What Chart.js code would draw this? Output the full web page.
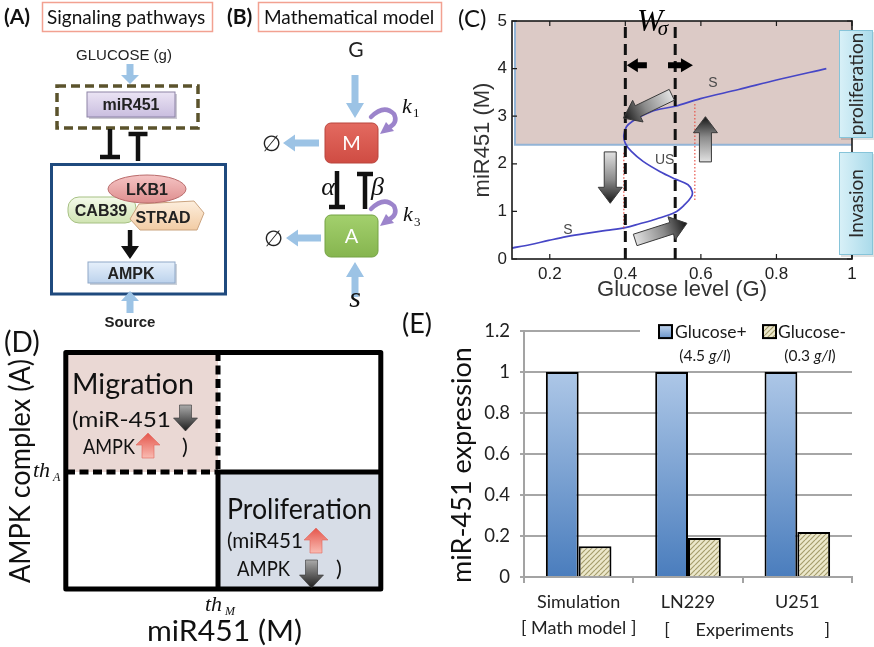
<!DOCTYPE html>
<html><head><meta charset="utf-8">
<script src="https://cdn.jsdelivr.net/npm/chart.js@4.4.1/dist/chart.umd.min.js"></script>
<style>
html,body{margin:0;padding:0;background:#fff}
#wrap{position:relative;width:874px;height:647px;overflow:hidden;background:#fff}
canvas{position:absolute}
#ov{position:absolute;left:0;top:0}
</style></head><body>
<div id="wrap">
<canvas id="cC" width="412" height="310" style="left:462px;top:0;width:412px;height:310px"></canvas>
<canvas id="cE" width="474" height="337" style="left:400px;top:310px;width:474px;height:337px"></canvas>
<svg id="ov" width="874" height="647" xmlns="http://www.w3.org/2000/svg"></svg>
</div>
<script>
// ---------- Panel C data (bifurcation curve) ----------
const glucoseLevel = [0.10,0.147,0.197,0.244,0.297,0.35,0.40,0.438,0.482,0.532,0.557,0.575,0.577,0.566,0.532,0.491,0.447,0.416,0.40,0.396,0.403,0.42,0.447,0.482,0.532,0.599,0.70,0.80,0.932];
const mir451Level  = [0.23,0.30,0.39,0.47,0.54,0.60,0.66,0.74,0.84,0.98,1.14,1.31,1.42,1.56,1.68,1.84,2.05,2.26,2.43,2.60,2.78,2.90,3.02,3.13,3.21,3.37,3.56,3.76,4.00];
const switchThresholds = [0.40, 0.532];
const foldG = [0.396, 0.584];
const foldFrom = [2.23, 1.24];
const foldTo = [0.61, 3.28];
const proliferationLevel = 2.4;
const xTicksC = [0.2, 0.4, 0.6, 0.8, 1];
const yTicksC = [0, 1, 2, 3, 4, 5];
const flowArrowFrom = [[0.523,3.45],[0.612,2.04],[0.36,2.25],[0.426,0.40]];
const flowArrowTo   = [[0.395,2.96],[0.612,2.99],[0.36,1.17],[0.563,0.75]];

// ---------- Panel E data (bar chart) ----------
const categoriesE = ['Simulation', 'LN229', 'U251'];
const glucosePlus = [1, 1, 1];
const glucoseMinus = [0.15, 0.19, 0.22];
const yTicksE = [0, 0.2, 0.4, 0.6, 0.8, 1, 1.2];

const LATO = 'Lato, "Open Sans", sans-serif';
const ARIAL = '"Liberation Sans", Arial, sans-serif';
const SERIF = '"Liberation Serif", "DejaVu Serif", serif';

function arrowPoints(x1,y1,x2,y2,sw,hw,hl){
  const dx=x2-x1, dy=y2-y1, L=Math.hypot(dx,dy), ux=dx/L, uy=dy/L, px=-uy, py=ux;
  const bx=x2-ux*hl, by=y2-uy*hl;
  return [[x1+px*sw/2,y1+py*sw/2],[bx+px*sw/2,by+py*sw/2],[bx+px*hw/2,by+py*hw/2],[x2,y2],
          [bx-px*hw/2,by-py*hw/2],[bx-px*sw/2,by-py*sw/2],[x1-px*sw/2,y1-py*sw/2]];
}
function svgArrow(x1,y1,x2,y2,sw,hw,hl,fill,extra){
  return `<polygon points="${arrowPoints(x1,y1,x2,y2,sw,hw,hl).map(p=>p[0].toFixed(1)+','+p[1].toFixed(1)).join(' ')}" fill="${fill}" ${extra||''}/>`;
}
function ctxArrow(ctx,x1,y1,x2,y2,sw,hw,hl){
  const p=arrowPoints(x1,y1,x2,y2,sw,hw,hl);
  ctx.beginPath(); p.forEach((q,i)=> i?ctx.lineTo(q[0],q[1]):ctx.moveTo(q[0],q[1])); ctx.closePath();
}

// ---------- Panel C chart ----------
const panelCPlugin = {
  id: 'panelC',
  beforeDatasetsDraw(chart){
    const {ctx, chartArea:a, scales:{x,y}} = chart;
    const yT=y.getPixelForValue(5), yB=y.getPixelForValue(proliferationLevel);
    const xl=x.getPixelForValue(0.1)+3, xr=x.getPixelForValue(1);
    ctx.save();
    ctx.fillStyle='#dccac6'; ctx.fillRect(xl,yT,xr-xl,yB-yT);
    ctx.strokeStyle='#93b4d6'; ctx.lineWidth=2;
    ctx.beginPath(); ctx.moveTo(xl,yT); ctx.lineTo(xl,yB); ctx.lineTo(xr,yB); ctx.stroke();
    ctx.restore();
  },
  afterDatasetsDraw(chart){
    const {ctx, chartArea:a, scales:{x,y}} = chart;
    ctx.save();
    ctx.strokeStyle='#1a1a1a'; ctx.lineWidth=1.6;
    ctx.strokeRect(a.left,a.top,a.width,a.height);
    ctx.lineWidth=1.2; ctx.beginPath();
    xTicksC.forEach(v=>{const p=x.getPixelForValue(v); ctx.moveTo(p,a.bottom); ctx.lineTo(p,a.bottom-5); ctx.moveTo(p,a.top); ctx.lineTo(p,a.top+5);});
    yTicksC.forEach(v=>{const p=y.getPixelForValue(v); ctx.moveTo(a.left,p); ctx.lineTo(a.left+5,p); ctx.moveTo(a.right,p); ctx.lineTo(a.right-5,p);});
    ctx.stroke();
    flowArrowFrom.forEach((f,i)=>{
      const t=flowArrowTo[i];
      const x1=x.getPixelForValue(f[0]), y1=y.getPixelForValue(f[1]);
      const x2=x.getPixelForValue(t[0]), y2=y.getPixelForValue(t[1]);
      const g=ctx.createLinearGradient(x1,y1,x2,y2);
      g.addColorStop(0,'#e2e2e2'); g.addColorStop(0.55,'#8a8a8a'); g.addColorStop(1,'#151515');
      ctxArrow(ctx,x1,y1,x2,y2,12,24,16);
      ctx.fillStyle=g; ctx.fill(); ctx.strokeStyle='#3a3a3a'; ctx.lineWidth=1; ctx.stroke();
    });
    const ya=y.getPixelForValue(4.07);
    ctx.fillStyle='#000';
    ctxArrow(ctx,x.getPixelForValue(0.457),ya,x.getPixelForValue(0.404),ya,6,14,11); ctx.fill();
    ctxArrow(ctx,x.getPixelForValue(0.513),ya,x.getPixelForValue(0.579),ya,6,14,12); ctx.fill();
    ctx.font='italic 31px '+SERIF; ctx.textAlign='left'; ctx.textBaseline='alphabetic';
    ctx.fillText('W', x.getPixelForValue(0.431), y.getPixelForValue(4.79));
    ctx.font='italic 21px '+SERIF;
    ctx.fillText('σ', x.getPixelForValue(0.486), y.getPixelForValue(4.70));
    ctx.font='14px '+ARIAL; ctx.fillStyle='#4a4a4a'; ctx.textAlign='center'; ctx.textBaseline='middle';
    ctx.fillText('S', x.getPixelForValue(0.632), y.getPixelForValue(3.69));
    ctx.fillText('US', x.getPixelForValue(0.504), y.getPixelForValue(2.07));
    ctx.fillText('S', x.getPixelForValue(0.248), y.getPixelForValue(0.61));
    const bx=a.right-13, bw=34;
    const boxes=[[30,138,'proliferation'],[152,255,'Invasion']];
    boxes.forEach(b=>{
      const g=ctx.createLinearGradient(bx,0,bx+bw,0);
      g.addColorStop(0,'#d9f1f8'); g.addColorStop(1,'#a9daea');
      ctx.fillStyle='rgba(0,0,0,0.12)'; ctx.fillRect(bx+2,b[0]+2,bw,b[1]-b[0]);
      ctx.fillStyle=g; ctx.fillRect(bx,b[0],bw,b[1]-b[0]);
      ctx.strokeStyle='#86c4d9'; ctx.lineWidth=1; ctx.strokeRect(bx+0.5,b[0]+0.5,bw-1,b[1]-b[0]-1);
      ctx.save(); ctx.translate(bx+bw/2+1,(b[0]+b[1])/2); ctx.rotate(-Math.PI/2);
      ctx.fillStyle='#2a2a2a'; ctx.font='19px '+LATO; ctx.textAlign='center'; ctx.textBaseline='middle';
      ctx.fillText(b[2],0,0); ctx.restore();
    });
    ctx.restore();
  }
};

const curvePts = glucoseLevel.map((g,i)=>({x:g, y:mir451Level[i]}));
const dsC = [];
switchThresholds.forEach(g=>dsC.push({data:[{x:g,y:0},{x:g,y:5}], showLine:true, borderColor:'#111', borderWidth:3, borderDash:[11,6], pointRadius:0}));
foldG.forEach((g,i)=>dsC.push({data:[{x:g,y:foldFrom[i]},{x:g,y:foldTo[i]}], showLine:true, borderColor:'#e8544a', borderWidth:1.2, borderDash:[1.5,2], pointRadius:0}));
dsC.push({data:curvePts, showLine:true, borderColor:'#4646c6', borderWidth:1.7, pointRadius:0, tension:0.35});

try {
new Chart(document.getElementById('cC'), {
  type:'scatter',
  data:{datasets:dsC},
  options:{
    responsive:false, animation:false, devicePixelRatio:1,
    layout:{padding:{left:0,right:22,top:21,bottom:0}},
    plugins:{legend:{display:false}, tooltip:{enabled:false}},
    scales:{
      x:{type:'linear', min:0.1, max:1,
        afterBuildTicks:s=>{s.ticks=xTicksC.map(v=>({value:v}));},
        afterFit:s=>{s.height=51;},
        grid:{display:false, drawTicks:false}, border:{display:false},
        ticks:{font:{family:ARIAL,size:17}, color:'#222', padding:5, callback:v=>String(v)},
        title:{display:true, text:'Glucose level (G)', font:{family:ARIAL,size:22}, color:'#333', padding:{top:0,bottom:7}}
      },
      y:{type:'linear', min:0, max:5,
        afterBuildTicks:s=>{s.ticks=yTicksC.map(v=>({value:v}));},
        afterFit:s=>{s.width=50;},
        grid:{display:false, drawTicks:false}, border:{display:false},
        ticks:{font:{family:ARIAL,size:17}, color:'#222', padding:5, callback:v=>String(v)},
        title:{display:true, text:'miR451 (M)', font:{family:ARIAL,size:22}, color:'#333', padding:{top:8,bottom:0}}
      }
    }
  },
  plugins:[panelCPlugin]
});
} catch(e) { console.error(e); }

// ---------- Panel E chart ----------
const cE = document.getElementById('cE');
function makeHatch(){
  const c=document.createElement('canvas'); c.width=5; c.height=5;
  const g=c.getContext('2d');
  g.fillStyle='#ece8cb'; g.fillRect(0,0,5,5);
  g.strokeStyle='#a59d6c'; g.lineWidth=1.2; g.beginPath();
  for(let k=-5;k<=10;k+=5){ g.moveTo(k,5); g.lineTo(k+5,0); }
  g.stroke();
  return cE.getContext('2d').createPattern(c,'repeat');
}
const hatch = makeHatch();
function blueGrad(chart){
  const ys=chart.scales && chart.scales.y;
  if(!chart.chartArea || !ys) return '#6d95c9';
  const t=ys.getPixelForValue(1), b=ys.getPixelForValue(0);
  if(!isFinite(t) || !isFinite(b)) return '#6d95c9';
  const g=chart.ctx.createLinearGradient(0,t,0,b);
  g.addColorStop(0,'#adc7e7'); g.addColorStop(1,'#4a7dbd'); return g;
}
const panelEPlugin = {
  id:'panelE',
  afterDraw(chart){
    const {ctx, chartArea:a, scales:{x,y}} = chart;
    ctx.save();
    ctx.save(); ctx.translate(62, 155); ctx.rotate(-Math.PI/2);
    ctx.font='27px '+LATO; ctx.fillStyle='#111'; ctx.textAlign='center'; ctx.textBaseline='middle';
    ctx.fillText('miR-451 expression',0,0); ctx.restore();
    const y2=a.bottom+53;
    ctx.font='18px '+LATO; ctx.fillStyle='#222'; ctx.textAlign='center'; ctx.textBaseline='middle';
    const c1=x.getPixelForValue(1), c2=x.getPixelForValue(2);
    ctx.fillText('[', c1-21, y2);
    ctx.fillText('Experiments', (c1+c2)/2+2, y2);
    ctx.fillText(']', c2+30, y2);
    const yl=y.getPixelForValue(1.2);
    ctx.fillStyle='#fff'; ctx.fillRect(240,yl-9,a.right-240+2,18);
    const sq=(sx,fill)=>{ctx.fillStyle=fill; ctx.fillRect(sx,yl-6,13,13); ctx.strokeStyle='#000'; ctx.lineWidth=2; ctx.strokeRect(sx,yl-6,13,13);};
    const g=ctx.createLinearGradient(0,yl-6,0,yl+7); g.addColorStop(0,'#c3d6ee'); g.addColorStop(1,'#6a94c9');
    sq(259,g); sq(363,hatch);
    ctx.fillStyle='#1a1a1a'; ctx.textAlign='left'; ctx.font='17.5px '+LATO;
    ctx.fillText('Glucose+',275,yl+1); ctx.fillText('Glucose-',378,yl+1);
    const sub=(cx,num)=>{
      ctx.font='15.5px '+LATO; const w1=ctx.measureText('('+num+' ').width;
      ctx.font='italic 15.5px '+LATO; const w2=ctx.measureText('g/l').width;
      ctx.font='15.5px '+LATO; const w3=ctx.measureText(')').width;
      let sx=cx-(w1+w2+w3)/2; const yy=yl+25;
      ctx.fillText('('+num+' ',sx,yy); sx+=w1;
      ctx.font='italic 15.5px '+LATO; ctx.fillText('g/l',sx,yy); sx+=w2;
      ctx.font='15.5px '+LATO; ctx.fillText(')',sx,yy);
    };
    sub(305,'4.5'); sub(410,'0.3');
    ctx.restore();
  }
};

try {
new Chart(cE, {
  type:'bar',
  data:{
    labels:[[categoriesE[0],'[ Math model ]'],[categoriesE[1],''],[categoriesE[2],'']],
    datasets:[
      {label:'Glucose+', data:glucosePlus, backgroundColor:c=>blueGrad(c.chart), borderColor:'#000', borderWidth:2, categoryPercentage:0.6, barPercentage:1},
      {label:'Glucose-', data:glucoseMinus, backgroundColor:hatch, borderColor:'#000', borderWidth:2, categoryPercentage:0.6, barPercentage:1}
    ]
  },
  options:{
    responsive:false, animation:false, devicePixelRatio:1,
    layout:{padding:{left:40,right:22,top:16,bottom:0}},
    plugins:{legend:{display:false}, tooltip:{enabled:false}},
    scales:{
      x:{afterFit:s=>{s.height=70;},
        grid:{drawOnChartArea:false, color:'#a3a3a3', lineWidth:2, tickLength:6},
        border:{color:'#a3a3a3', width:2},
        ticks:{font:{family:LATO,size:18,lineHeight:1.4}, color:'#222', padding:7, maxRotation:0, autoSkip:false}
      },
      y:{min:0, max:1.2,
        afterBuildTicks:s=>{s.ticks=yTicksE.map(v=>({value:v}));},
        afterFit:s=>{s.width=84;},
        grid:{color:'#a6a6a6', lineWidth:2, tickLength:4},
        border:{color:'#a3a3a3', width:2},
        ticks:{font:{family:LATO,size:18.5}, color:'#222', padding:10, callback:v=>String(Number(Number(v).toFixed(1)))},
        title:{display:false, text:'miR-451 expression'}
      }
    }
  },
  plugins:[panelEPlugin]
});
} catch(e) { console.error(e); }

// ---------- Diagrams (A, B, D) and panel letters ----------
const LB='#9cc3e5';
const TL=(n)=>`textLength="${n}" lengthAdjust="spacingAndGlyphs"`;
let s = `<defs>
<linearGradient id="gMir" x1="0" y1="0" x2="0" y2="1"><stop offset="0" stop-color="#ebe4f4"/><stop offset="1" stop-color="#c9bddf"/></linearGradient>
<linearGradient id="gAmpk" x1="0" y1="0" x2="0" y2="1"><stop offset="0" stop-color="#e6f0fb"/><stop offset="1" stop-color="#bcd2ec"/></linearGradient>
<linearGradient id="gLkb" x1="0" y1="0" x2="0" y2="1"><stop offset="0" stop-color="#f5c4c4"/><stop offset="1" stop-color="#de8e8e"/></linearGradient>
<linearGradient id="gCab" x1="0" y1="0" x2="0" y2="1"><stop offset="0" stop-color="#f4faea"/><stop offset="1" stop-color="#d0e4b2"/></linearGradient>
<linearGradient id="gStrad" x1="0" y1="0" x2="0" y2="1"><stop offset="0" stop-color="#fdeedd"/><stop offset="1" stop-color="#f2cca4"/></linearGradient>
<linearGradient id="gM" x1="0" y1="0" x2="0" y2="1"><stop offset="0" stop-color="#e36a60"/><stop offset="1" stop-color="#cf4c43"/></linearGradient>
<linearGradient id="gA" x1="0" y1="0" x2="0" y2="1"><stop offset="0" stop-color="#a3d06d"/><stop offset="1" stop-color="#86b54f"/></linearGradient>
<linearGradient id="gDn" x1="0" y1="0" x2="0" y2="1"><stop offset="0" stop-color="#ababab"/><stop offset="1" stop-color="#1d1d1d"/></linearGradient>
<linearGradient id="gUp" x1="0" y1="0" x2="0" y2="1"><stop offset="0" stop-color="#e5554b"/><stop offset="1" stop-color="#f9bbb2"/></linearGradient>
</defs>`;
s += `<text x="4" y="24" font-family='${LATO}' font-weight="700" font-size="21" fill="#111">(A)</text>`;
s += `<rect x="42.5" y="2.5" width="170" height="29" fill="#fff" stroke="#f2a191" stroke-width="1.5"/>`;
s += `<text x="47" y="24" font-family='${LATO}' font-size="19" fill="#111">Signaling pathways</text>`;
s += `<text x="227" y="24" font-family='${LATO}' font-weight="700" font-size="21" fill="#111">(B)</text>`;
s += `<rect x="258.5" y="2.5" width="183" height="29" fill="#fff" stroke="#f2a191" stroke-width="1.5"/>`;
s += `<text x="264" y="24" font-family='${LATO}' font-size="19" fill="#111">Mathematical model</text>`;
s += `<text x="458" y="27" font-family='${LATO}' font-size="24" fill="#111">(C)</text>`;
s += `<text x="4" y="352" font-family='${LATO}' font-size="28" fill="#111">(D)</text>`;
s += `<text x="402" y="333" font-family='${LATO}' font-size="27" fill="#111">(E)</text>`;

// ---- Panel A ----
s += `<text x="124" y="60" text-anchor="middle" font-family='${ARIAL}' font-size="15" fill="#222">GLUCOSE (g)</text>`;
s += svgArrow(130,64,130,84,7,18,9,LB);
s += `<rect x="57" y="86" width="141" height="42" fill="none" stroke="#5b532c" stroke-width="3.5" stroke-dasharray="9 5"/>`;
s += `<rect x="89" y="94" width="88" height="25" fill="#9a94a8" opacity="0.5"/>`;
s += `<rect x="87" y="92" width="88" height="25" fill="url(#gMir)" stroke="#8d83a6" stroke-width="1"/>`;
s += `<text x="131" y="110" text-anchor="middle" font-family='${ARIAL}' font-weight="700" font-size="16" fill="#222">miR451</text>`;
s += `<g stroke="#111" stroke-width="4.5" stroke-linecap="butt"><line x1="110" y1="129" x2="110" y2="157"/><line x1="100" y1="157" x2="120" y2="157"/><line x1="138" y1="134" x2="138" y2="161"/><line x1="128.5" y1="134" x2="147.5" y2="134"/></g>`;
s += `<rect x="51.5" y="164.5" width="174" height="129.5" fill="none" stroke="#1f4a7e" stroke-width="3"/>`;
s += `<rect x="68" y="197" width="68" height="26" rx="11" fill="url(#gCab)" stroke="#a6c083" stroke-width="1"/>`;
s += `<polygon points="130,219 139,204 194,201 204,213 197,230 140,230" fill="url(#gStrad)" stroke="#caa37f" stroke-width="1"/>`;
s += `<ellipse cx="147" cy="189" rx="39" ry="14" fill="url(#gLkb)" stroke="#b96c6c" stroke-width="1"/>`;
s += `<text x="147" y="195" text-anchor="middle" font-family='${ARIAL}' font-weight="700" font-size="16" fill="#222">LKB1</text>`;
s += `<text x="101" y="216" text-anchor="middle" font-family='${ARIAL}' font-weight="700" font-size="16" fill="#222">CAB39</text>`;
s += `<text x="163" y="223" text-anchor="middle" font-family='${ARIAL}' font-weight="700" font-size="16" fill="#222">STRAD</text>`;
s += svgArrow(130,230,130,259,4.5,18,13,'#111');
s += `<rect x="90" y="264" width="87" height="21" fill="#9aa6b6" opacity="0.5"/>`;
s += `<rect x="88" y="262" width="87" height="21" fill="url(#gAmpk)" stroke="#8fa8c8" stroke-width="1"/>`;
s += `<text x="131" y="279" text-anchor="middle" font-family='${ARIAL}' font-weight="700" font-size="16" fill="#222">AMPK</text>`;
s += svgArrow(130,313,130,291,7,18,10,LB);
s += `<text x="130" y="327" text-anchor="middle" font-family='${ARIAL}' font-weight="700" font-size="15" fill="#222">Source</text>`;

// ---- Panel B ----
s += `<text x="356" y="57" text-anchor="middle" font-family='${LATO}' font-size="21" fill="#222">G</text>`;
s += svgArrow(355,75,355,118,7,18,15,LB);
s += `<rect x="325" y="123" width="53" height="40" rx="6" fill="url(#gM)" stroke="#b9453d" stroke-width="1"/>`;
s += `<text x="351.5" y="150" text-anchor="middle" font-family='${LATO}' font-size="20" fill="#fff">M</text>`;
s += svgArrow(319,143,283,143,7,17,12,LB);
s += `<text x="271" y="151" text-anchor="middle" font-family="DejaVu Serif, serif" font-size="22" fill="#222">∅</text>`;
s += `<rect x="325" y="215" width="53" height="42" rx="6" fill="url(#gA)" stroke="#74a244" stroke-width="1"/>`;
s += `<text x="351.5" y="243" text-anchor="middle" font-family='${LATO}' font-size="20" fill="#fff">A</text>`;
s += svgArrow(321,238,286,238,7,17,12,LB);
s += `<text x="273" y="246" text-anchor="middle" font-family="DejaVu Serif, serif" font-size="22" fill="#222">∅</text>`;
s += svgArrow(355,297,355,262,7,18,15,LB);
s += `<text x="355" y="307" text-anchor="middle" font-family='${SERIF}' font-style="italic" font-size="30" fill="#111">s</text>`;
s += `<g stroke="#111" stroke-width="4.5"><line x1="337" y1="171" x2="337" y2="207"/><line x1="329" y1="207" x2="345" y2="207"/><line x1="365" y1="174" x2="365" y2="209"/><line x1="357" y1="174" x2="373" y2="174"/></g>`;
s += `<text x="335" y="195" text-anchor="end" font-family='${SERIF}' font-style="italic" font-size="26" fill="#111">α</text>`;
s += `<text x="371" y="195" font-family='${SERIF}' font-style="italic" font-size="26" fill="#111">β</text>`;
function purpleLoop(dy){
  return `<path d="M371 ${117+dy} Q384 ${104+dy} 394 ${114+dy} Q398 ${122+dy} 390 ${127+dy}" fill="none" stroke="#9c84cb" stroke-width="4.5" stroke-linecap="round"/>`+
         `<polygon points="380,${134+dy} 386,${122+dy} 394,${131+dy}" fill="#9c84cb"/>`;
}
s += purpleLoop(0) + purpleLoop(92);
s += `<text x="402" y="113" font-family='${SERIF}' font-style="italic" font-size="22" fill="#111">k</text><text x="413" y="117" font-family='${SERIF}' font-size="13" fill="#111">1</text>`;
s += `<text x="403" y="221" font-family='${SERIF}' font-style="italic" font-size="22" fill="#111">k</text><text x="414" y="226" font-family='${SERIF}' font-size="13" fill="#111">3</text>`;

// ---- Panel D ----
s += `<rect x="66" y="352" width="152" height="120" fill="#ead8d4"/>`;
s += `<rect x="218" y="472" width="163" height="117" fill="#d7dde7"/>`;
s += `<g stroke="#000" stroke-width="5" fill="none">
<rect x="65.8" y="352.5" width="315" height="236.5" stroke-linejoin="round"/>
<line x1="218" y1="352" x2="218" y2="472" stroke-dasharray="9 4.5"/>
<line x1="66" y1="472" x2="218" y2="472" stroke-dasharray="9 4.5"/>
<line x1="216" y1="472" x2="381" y2="472"/>
<line x1="218" y1="470" x2="218" y2="589"/>
</g>`;
s += `<text x="72" y="394" font-family='${LATO}' font-size="28" fill="#111" ${TL(122)}>Migration</text>`;
s += `<text x="72" y="427" font-family='${LATO}' font-size="22" fill="#111" ${TL(99)}>(miR-451</text>`;
s += `<text x="83" y="454" font-family='${LATO}' font-size="21" fill="#111" ${TL(52)}>AMPK</text>`;
s += `<text x="182" y="454" font-family='${LATO}' font-size="22" fill="#111">)</text>`;
s += svgArrow(185.5,405,185.5,431,12,24,13,'url(#gDn)','stroke="#333" stroke-width="0.6"');
s += svgArrow(148,458,148,433,12,24,12,'url(#gUp)','stroke="#e0665c" stroke-width="0.6"');
s += `<text x="227" y="519" font-family='${LATO}' font-size="28" fill="#111" ${TL(145)}>Proliferation</text>`;
s += `<text x="227" y="548" font-family='${LATO}' font-size="22" fill="#111" ${TL(76)}>(miR451</text>`;
s += `<text x="237" y="576" font-family='${LATO}' font-size="21" fill="#111" ${TL(53)}>AMPK</text>`;
s += `<text x="336" y="576" font-family='${LATO}' font-size="22" fill="#111">)</text>`;
s += svgArrow(316,553,316,528,12,24,12,'url(#gUp)','stroke="#e0665c" stroke-width="0.6"');
s += svgArrow(311.5,560,311.5,588,12,24,13,'url(#gDn)','stroke="#333" stroke-width="0.6"');
s += `<text x="33" y="477" font-family='${SERIF}' font-style="italic" font-size="22" fill="#111">th</text><text x="53" y="481" font-family='${SERIF}' font-style="italic" font-size="12" fill="#111">A</text>`;
s += `<text x="205" y="611" font-family='${SERIF}' font-style="italic" font-size="22" fill="#111">th</text><text x="225" y="615" font-family='${SERIF}' font-style="italic" font-size="12" fill="#111">M</text>`;
s += `<text x="147" y="641" font-family='${LATO}' font-size="29" fill="#111" ${TL(155)}>miR451 (M)</text>`;
s += `<text transform="translate(30,583) rotate(-90)" font-family='${LATO}' font-size="28" fill="#111" ${TL(224)}>AMPK complex (A)</text>`;

document.getElementById('ov').innerHTML = s;
</script>
</body></html>
